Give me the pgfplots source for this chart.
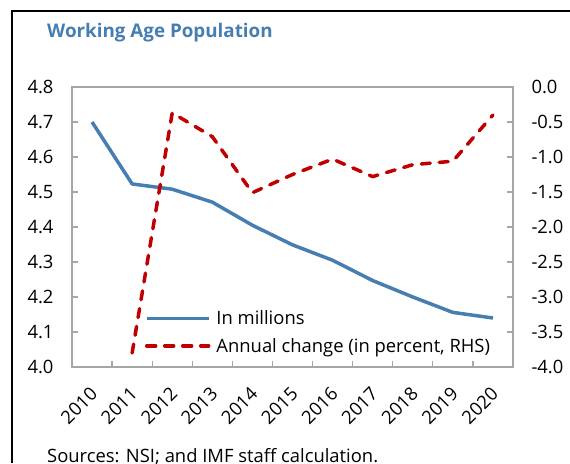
\documentclass[border=0pt]{standalone}
\usepackage{fontspec}
\setmainfont{Open Sans}
\usepackage{pgfplots}
\pgfplotsset{compat=1.18}
\definecolor{ablue}{RGB}{70,126,178}
\definecolor{ared}{RGB}{192,0,0}
\definecolor{agray}{RGB}{166,166,166}
\newcommand{\fs}{\fontsize{18.4}{22}\selectfont}
\pgfplotsset{
  common/.style={
    at={(72pt,96pt)}, anchor=south west, scale only axis,
    width=441pt, height=280pt,
    xmin=-0.5, xmax=10.5,
    axis line style={agray, line width=1.5pt},
    tick style={agray, line width=1.2pt},
    major tick length=6pt, minor tick length=6pt,
    tick align=inside,
    ticklabel style={font=\fs},
    /pgf/number format/.cd, fixed, fixed zerofill, precision=1, assume math mode=true,
  },
}
\begin{document}
\begin{tikzpicture}[x=1pt,y=1pt]
\path[use as bounding box] (0,0) rectangle (570,463);
\draw[line width=1.3pt] (12,0) -- (12,452) -- (570,452);
\node[anchor=west, inner sep=0pt, font=\fontsize{18.8}{22}\selectfont\bfseries, text=ablue] at (47,430) {Working Age Population};
\node[anchor=west, inner sep=0pt, font=\fs] at (47,6) {Sources: NSI; and IMF staff calculation.};

\begin{axis}[common,
  ymin=4.0, ymax=4.8,
  ytick={4.0,4.1,4.2,4.3,4.4,4.5,4.6,4.7,4.8},
  xtick={0,1,2,3,4,5,6,7,8,9,10},
  xticklabels={2010,2011,2012,2013,2014,2015,2016,2017,2018,2019,2020},
  minor xtick={0.5,1.5,2.5,3.5,4.5,5.5,6.5,7.5,8.5,9.5},
  major x tick style={draw=none},
  xtick pos=left, ytick pos=left,
  xticklabel style={yshift=-14pt, xshift=-3pt, rotate=45, anchor=north east},
  yticklabel style={xshift=-15pt},
]
\addplot[ablue, line width=3.5pt, line join=round] coordinates {
(0,4.700) (1,4.523) (2,4.508) (3,4.471) (4,4.405) (5,4.349) (6,4.305) (7,4.247) (8,4.200) (9,4.156) (10,4.140)
};
\end{axis}

\begin{axis}[common,
  ymin=-4, ymax=0,
  ytick={-4,-3.5,-3,-2.5,-2,-1.5,-1,-0.5,0},
  hide x axis,
  axis y line*=right,
  yticklabel style={xshift=15pt},
  legend style={draw=none, fill=none, at={(0.165,0.04)}, anchor=south west,
    font=\fs, row sep=8pt, inner sep=0pt},
  legend cell align=left,
  legend image code/.code={\draw[#1] (0pt,0pt) -- (62pt,0pt); \path (66pt,0pt);},
]
\addlegendimage{ablue, line width=3.5pt}
\addlegendentry{In millions}
\addplot[ared, line width=3.5pt, line cap=round, line join=round, dash pattern=on 9pt off 9pt] coordinates {
(1,-3.80) (2,-0.37) (3,-0.71) (4,-1.51) (5,-1.25) (6,-1.03) (7,-1.28) (8,-1.11) (9,-1.06) (10,-0.40)
};
\addlegendentry{Annual change (in percent, RHS)}
\end{axis}
\end{tikzpicture}
\end{document}
